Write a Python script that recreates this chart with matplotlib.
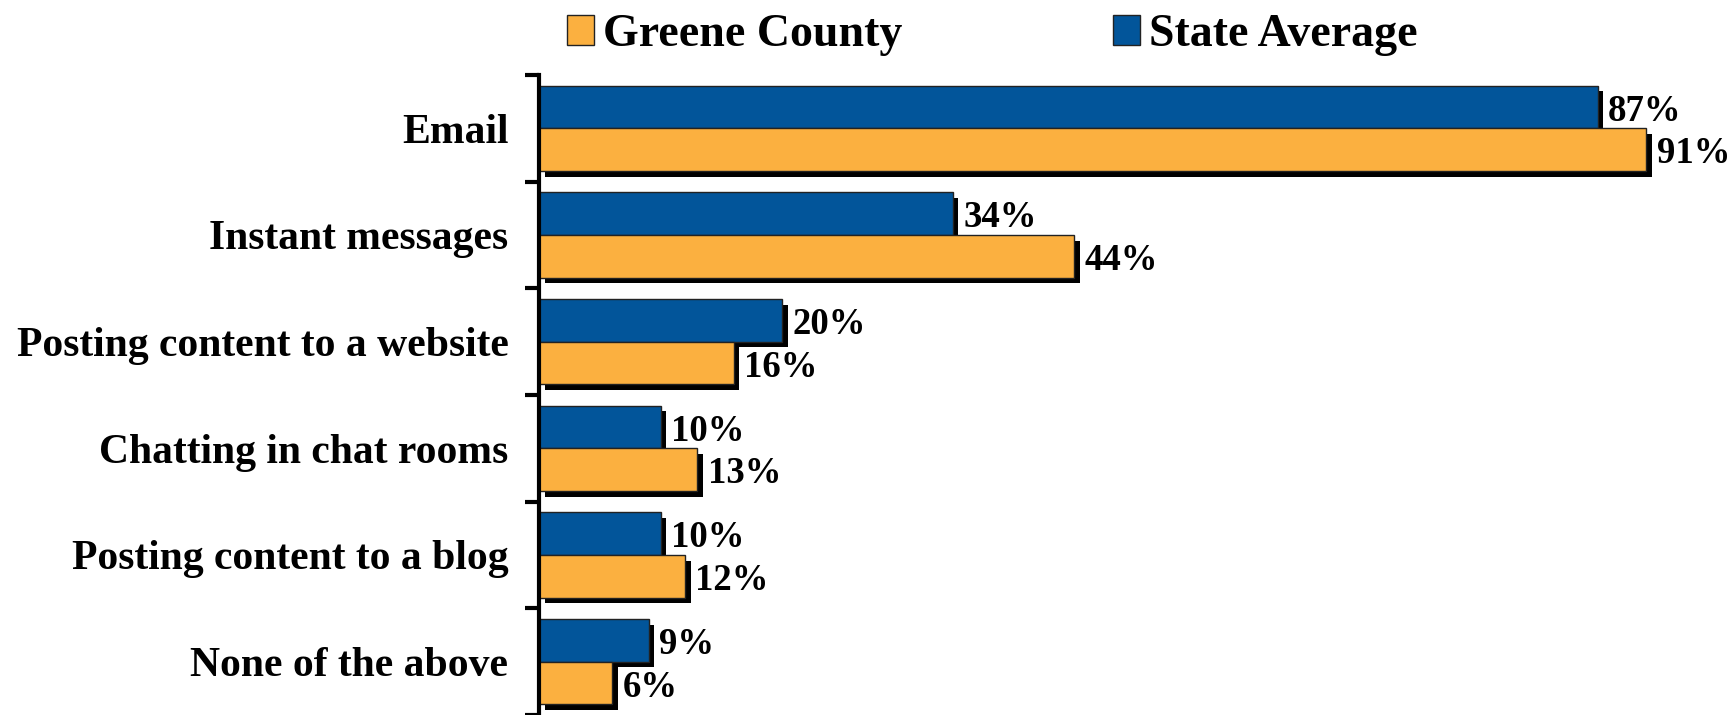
import numpy as np
import matplotlib.pyplot as plt
import matplotlib.patheffects as pe
from matplotlib.patches import Patch

plt.rcParams['font.family'] = ['Liberation Serif', 'DejaVu Serif']
plt.rcParams['font.weight'] = 'bold'

categories = ['Email', 'Instant messages', 'Posting content to a website',
              'Chatting in chat rooms', 'Posting content to a blog', 'None of the above']
greene = [91, 44, 16, 13, 12, 6]
state = [87, 34, 20, 10, 10, 9]

blue = '#02559A'
orange = '#FBB040'

fig = plt.figure(figsize=(17.34, 7.15), dpi=100)
ax = fig.add_axes([539 / 1734, 0, 1 - 539 / 1734, 1 - 75 / 715])

y = np.arange(len(categories))
h = 0.4
shadow = [pe.SimplePatchShadow(offset=(4, -4), shadow_rgbFace='black', alpha=1), pe.Normal()]

b1 = ax.barh(y - h / 2, state, height=h, color=blue, edgecolor='#222222', linewidth=1)
b2 = ax.barh(y + h / 2, greene, height=h, color=orange, edgecolor='#222222', linewidth=1)
for bars in (b1, b2):
    for r in bars:
        r.set_path_effects(shadow)
    txts = ax.bar_label(bars, labels=[f'{v}%' for v in bars.datavalues], padding=7.5,
                        fontsize=26.5, fontweight='bold', color='black')
    # nudge labels a little below the bar centre, like the original
    for t in txts:
        t.xyann = (7.5, -3)

ax.set_xlim(0, 98.2)
ax.set_ylim(len(categories) - 0.5, -0.5)

ax.set_yticks(y)
ax.set_yticklabels(categories, fontsize=30, fontweight='bold')
ax.set_yticks(np.arange(len(categories) + 1) - 0.5, minor=True)
ax.tick_params(axis='y', which='major', length=0, pad=22)
ax.tick_params(axis='y', which='minor', length=10, width=3, color='black')
ax.set_xticks([])

for s in ('top', 'right', 'bottom'):
    ax.spines[s].set_visible(False)
ax.spines['left'].set_linewidth(3)

handles = [Patch(facecolor=orange, edgecolor='#222222', label='Greene County'),
           Patch(facecolor=blue, edgecolor='#222222', label='State Average')]
fig.legend(handles=handles, loc='upper left', bbox_to_anchor=(567 / 1734, 1 - 14 / 715), ncol=2,
           frameon=False, fontsize=33, handlelength=0.58, handleheight=0.65,
           handletextpad=0.2, columnspacing=4.6, borderpad=0, borderaxespad=0)

fig.savefig('out.png', dpi=100)
